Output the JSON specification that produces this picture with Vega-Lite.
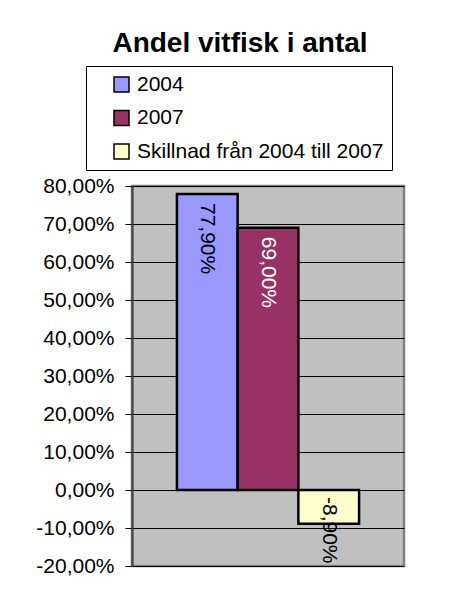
{
  "$schema": "https://vega.github.io/schema/vega-lite/v6.json",
  "autosize": {"type": "none"},
  "width": 272,
  "height": 380,
  "padding": {"left": 132, "top": 186, "right": 60, "bottom": 30},
  "background": "white",
  "title": {
    "text": "Andel vitfisk i antal",
    "font": "Liberation Sans",
    "fontSize": 28,
    "fontWeight": "bold",
    "color": "black",
    "anchor": "middle",
    "frame": "group",
    "dx": -28,
    "offset": 8
  },
  "data": {
    "values": [
      {"series": "2004", "value": 0.779},
      {"series": "2007", "value": 0.69},
      {"series": "Skillnad från 2004 till 2007", "value": -0.089}
    ]
  },
  "encoding": {
    "x": {
      "field": "series",
      "type": "nominal",
      "sort": null,
      "axis": null,
      "scale": {"paddingInner": 0, "paddingOuter": 0.74}
    }
  },
  "layer": [
    {
      "mark": {"type": "bar", "stroke": "black", "strokeWidth": 2.5},
      "encoding": {
        "y": {
          "field": "value",
          "type": "quantitative",
          "title": null,
          "scale": {"domain": [-0.2, 0.8], "nice": false, "zero": false},
          "axis": {
            "values": [-0.2, -0.1, 0, 0.1, 0.2, 0.3, 0.4, 0.5, 0.6, 0.7, 0.8],
            "format": ".2%",
            "labelOverlap": false,
            "labelFont": "Liberation Sans",
            "labelFontSize": 21,
            "labelColor": "black",
            "labelPadding": 11,
            "tickSize": 7,
            "tickColor": "black",
            "tickWidth": 1,
            "domainColor": "#404040",
            "domainWidth": 2,
            "grid": true,
            "gridColor": "black",
            "gridWidth": 1,
            "gridOpacity": 1
          }
        },
        "fill": {
          "field": "series",
          "type": "nominal",
          "sort": null,
          "scale": {
            "domain": ["2004", "2007", "Skillnad från 2004 till 2007"],
            "range": ["#9999FF", "#993366", "#FFFFCC"]
          },
          "legend": {
            "title": null,
            "orient": "none",
            "legendX": -46,
            "legendY": -120,
            "symbolType": "square",
            "symbolSize": 225,
            "symbolStrokeColor": "black",
            "symbolStrokeWidth": 1.5,
            "symbolOpacity": 1,
            "symbolOffset": 17,
            "labelFont": "Liberation Sans",
            "labelFontSize": 21,
            "labelColor": "black",
            "labelOffset": 5,
            "labelLimit": 400,
            "rowPadding": 11.5,
            "padding": 8,
            "strokeColor": "black",
            "fillColor": "white"
          }
        }
      }
    },
    {
      "transform": [{"filter": "datum.value > 0"}],
      "mark": {"type": "text", "angle": 90, "align": "left", "baseline": "middle", "dx": 9, "font": "Liberation Sans", "fontSize": 21},
      "encoding": {
        "y": {"field": "value", "type": "quantitative", "axis": null},
        "text": {"field": "value", "type": "quantitative", "format": ".2%"},
        "color": {"condition": {"test": "datum.series === '2007'", "value": "white"}, "value": "black"}
      }
    },
    {
      "transform": [{"filter": "datum.value < 0"}],
      "mark": {"type": "text", "angle": 90, "align": "left", "baseline": "middle", "dx": 7, "font": "Liberation Sans", "fontSize": 21, "color": "black"},
      "encoding": {
        "y": {"datum": 0, "type": "quantitative", "axis": null},
        "text": {"field": "value", "type": "quantitative", "format": ".2%"}
      }
    }
  ],
  "resolve": {"axis": {"y": "independent"}},
  "config": {
    "locale": {
      "number": {
        "decimal": ",",
        "thousands": " ",
        "grouping": [3],
        "currency": ["", " kr"],
        "minus": "-"
      }
    },
    "view": {"fill": "#C0C0C0", "stroke": "#808080", "strokeWidth": 2.5},
    "font": "Liberation Sans"
  }
}
